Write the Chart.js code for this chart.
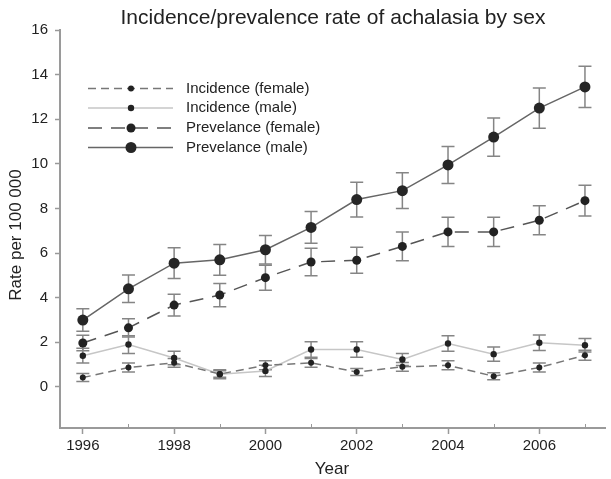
<!DOCTYPE html>
<html>
<head>
<meta charset="utf-8">
<script src="https://cdn.jsdelivr.net/npm/chart.js@4"></script>
<style>
  html, body { margin: 0; padding: 0; background: #fff; }
  #wrap { width: 611px; height: 479px; }
</style>
</head>
<body>
<div id="wrap"><canvas id="c" width="611" height="479"></canvas></div>
<script>
// ---- data ----
const chartTitle = "Incidence/prevalence rate of achalasia by sex";
const xTitle = "Year";
const yTitle = "Rate per 100 000";
const years = [1996, 1997, 1998, 1999, 2000, 2001, 2002, 2003, 2004, 2005, 2006, 2007];
const xTickValues = [1996, 1998, 2000, 2002, 2004, 2006];
const yTickValues = [0, 2, 4, 6, 8, 10, 12, 14, 16];
const seriesNames = ["Incidence (female)", "Incidence (male)", "Prevelance (female)", "Prevelance (male)"];

const incFemale    = [0.42, 0.87, 1.08, 0.58, 0.97, 1.08, 0.67, 0.90, 0.97, 0.48, 0.87, 1.42];
const incFemaleErr = [0.18, 0.20, 0.20, 0.15, 0.20, 0.20, 0.16, 0.20, 0.20, 0.16, 0.20, 0.22];
const incMale      = [1.40, 1.90, 1.30, 0.57, 0.72, 1.68, 1.68, 1.23, 1.95, 1.47, 1.98, 1.87];
const incMaleErr   = [0.33, 0.40, 0.30, 0.20, 0.25, 0.35, 0.35, 0.27, 0.35, 0.32, 0.35, 0.30];
const prevFemale   = [1.97, 2.65, 3.67, 4.12, 4.90, 5.60, 5.68, 6.30, 6.95, 6.95, 7.47, 8.35];
const prevFemaleErr= [0.35, 0.41, 0.49, 0.52, 0.56, 0.62, 0.58, 0.64, 0.66, 0.66, 0.65, 0.69];
const prevMale     = [3.00, 4.40, 5.55, 5.70, 6.15, 7.15, 8.40, 8.80, 9.95, 11.20, 12.50, 13.45];
const prevMaleErr  = [0.50, 0.62, 0.69, 0.69, 0.64, 0.71, 0.78, 0.80, 0.83, 0.86, 0.90, 0.92];

const FONT = "'Liberation Sans', Arial, sans-serif";

function pts(vals) { return years.map((y, i) => ({ x: y, y: vals[i] })); }

const datasets = [
  { label: seriesNames[0], data: pts(incFemale), err: incFemaleErr,
    borderColor: '#777', borderWidth: 1.5, borderDash: [8, 5],
    pointRadius: 3, pointBackgroundColor: '#222', pointBorderColor: '#222', pointBorderWidth: 0 },
  { label: seriesNames[1], data: pts(incMale), err: incMaleErr,
    borderColor: '#c6c6c6', borderWidth: 1.5, borderDash: [],
    pointRadius: 3.2, pointBackgroundColor: '#222', pointBorderColor: '#222', pointBorderWidth: 0 },
  { label: seriesNames[2], data: pts(prevFemale), err: prevFemaleErr,
    borderColor: '#555', borderWidth: 1.5, borderDash: [14, 9],
    pointRadius: 4.5, pointBackgroundColor: '#222', pointBorderColor: '#222', pointBorderWidth: 0 },
  { label: seriesNames[3], data: pts(prevMale), err: prevMaleErr,
    borderColor: '#666', borderWidth: 1.5, borderDash: [],
    pointRadius: 5.5, pointBackgroundColor: '#262626', pointBorderColor: '#262626', pointBorderWidth: 0 }
];

const extras = {
  id: 'extras',
  beforeDatasetsDraw(chart) {
    const ctx = chart.ctx, xs = chart.scales.x, ys = chart.scales.y;
    ctx.save();
    ctx.strokeStyle = '#858585';
    ctx.lineWidth = 1.5;
    chart.data.datasets.forEach(ds => {
      ds.data.forEach((p, i) => {
        const e = ds.err[i];
        const px = xs.getPixelForValue(p.x);
        const y1 = ys.getPixelForValue(p.y + e), y2 = ys.getPixelForValue(p.y - e);
        ctx.beginPath();
        ctx.moveTo(px, y1); ctx.lineTo(px, y2);
        ctx.moveTo(px - 6.5, y1); ctx.lineTo(px + 6.5, y1);
        ctx.moveTo(px - 6.5, y2); ctx.lineTo(px + 6.5, y2);
        ctx.stroke();
      });
    });
    ctx.restore();
  },
  afterDraw(chart) {
    const ctx = chart.ctx, xs = chart.scales.x, ys = chart.scales.y, ca = chart.chartArea;
    ctx.save();
    // minor ticks at odd years
    ctx.strokeStyle = '#999';
    ctx.lineWidth = 1;
    years.filter(y => y % 2 === 1).forEach(y => {
      const px = Math.round(xs.getPixelForValue(y)) + 0.5;
      ctx.beginPath(); ctx.moveTo(px, ca.bottom - 4); ctx.lineTo(px, ca.bottom); ctx.stroke();
    });
    // titles
    ctx.fillStyle = '#222';
    ctx.textAlign = 'center';
    ctx.textBaseline = 'middle';
    ctx.font = '21px ' + FONT;
    ctx.fillText(chartTitle, 333, 18);
    ctx.font = '17px ' + FONT;
    ctx.fillText(xTitle, 332, 469);
    ctx.save();
    ctx.translate(16, 235);
    ctx.rotate(-Math.PI / 2);
    ctx.fillText(yTitle, 0, 0);
    ctx.restore();
    // legend
    const rows = [88.5, 108, 128, 147.5];
    chart.data.datasets.forEach((ds, i) => {
      const y = rows[i];
      ctx.strokeStyle = ds.borderColor;
      ctx.lineWidth = ds.borderWidth;
      ctx.setLineDash(ds.borderDash || []);
      ctx.beginPath(); ctx.moveTo(88, y); ctx.lineTo(173, y); ctx.stroke();
      ctx.setLineDash([]);
      ctx.fillStyle = ds.pointBackgroundColor;
      ctx.beginPath(); ctx.arc(131, y, ds.pointRadius, 0, Math.PI * 2); ctx.fill();
      ctx.fillStyle = '#222';
      ctx.textAlign = 'left';
      ctx.font = '15px ' + FONT;
      ctx.fillText(ds.label, 186, y);
    });
    ctx.restore();
  }
};

new Chart(document.getElementById('c'), {
  type: 'line',
  data: { datasets },
  options: {
    responsive: false,
    animation: false,
    layout: { padding: { top: 30, right: 1, left: 0, bottom: 0 } },
    plugins: { legend: { display: false }, title: { display: false }, tooltip: { enabled: false } },
    elements: { line: { tension: 0 } },
    scales: {
      x: {
        type: 'linear', min: 1995.5, max: 2007.45,
        afterBuildTicks(s) { s.ticks = xTickValues.map(v => ({ value: v })); },
        afterFit(s) { s.height = 51; },
        ticks: { callback: v => String(v), font: { size: 15, family: FONT }, color: '#222', padding: 3, maxRotation: 0, autoSkip: false },
        grid: { display: true, drawOnChartArea: false, drawTicks: true, tickLength: 6, color: '#999', tickWidth: 1.5 },
        border: { display: true, color: '#9a9a9a', width: 2 }
      },
      y: {
        type: 'linear', min: -1.84, max: 16,
        afterBuildTicks(s) { s.ticks = yTickValues.map(v => ({ value: v })); },
        afterFit(s) { s.width = 60; },
        ticks: { callback: v => String(v), font: { size: 15, family: FONT }, color: '#222', padding: 7, autoSkip: false },
        grid: { display: true, drawOnChartArea: false, drawTicks: true, tickLength: 5, color: '#999', tickWidth: 1.5 },
        border: { display: true, color: '#9a9a9a', width: 2 }
      }
    }
  },
  plugins: [extras]
});
</script>
</body>
</html>
